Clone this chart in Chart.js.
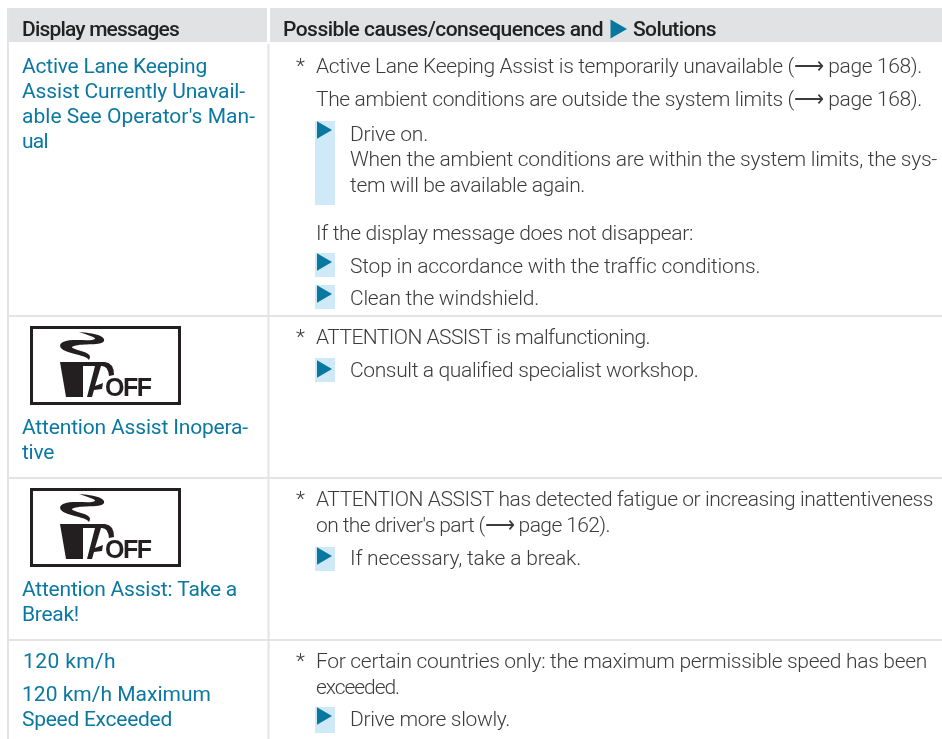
<!DOCTYPE html>
<html>
<head>
<meta charset="utf-8">
<title>Display messages</title>
<script src="https://cdn.jsdelivr.net/npm/chart.js@4/dist/chart.umd.min.js"></script>
<style>
    html, body { margin: 0; padding: 0; background: #fff; overflow: hidden; }
    canvas { display: block; }
</style>
</head>
<body>
<canvas id="messagesChart" width="942" height="739"></canvas>
<script>
// Text lines: [x, baseline y, text, right edge]
const headerLines = [
    [22, 36, 'Display messages', 179],
    [283, 36, 'Possible causes/consequences and', 603],
    [633, 36, 'Solutions', 716]
];
const messageLines = [
    [22, 73, 'Active Lane Keeping', 207],
    [22, 98, 'Assist Currently Unavail-', 245],
    [22, 123, "able See Operator's Man-", 255],
    [22, 148, 'ual', 48],
    [22, 434, 'Attention Assist Inopera-', 248],
    [22, 459, 'tive', 54],
    [22, 596, 'Attention Assist: Take a', 237],
    [22, 621, 'Break!', 79],
    [23, 668, '120 km/h', 116],
    [22, 701, '120 km/h Maximum', 211],
    [22, 726, 'Speed Exceeded', 172]
];
const detailLines = [
    [316, 73, 'Active Lane Keeping Assist is temporarily unavailable (⟶ page 168).', 922],
    [316, 106, 'The ambient conditions are outside the system limits (⟶ page 168).', 922],
    [350, 141, 'Drive on.', 428],
    [350, 166, 'When the ambient conditions are within the system limits, the sys-', 937],
    [350, 192, 'tem will be available again.', 585],
    [316, 240, 'If the display message does not disappear:', 693],
    [350, 273, 'Stop in accordance with the traffic conditions.', 759],
    [350, 305, 'Clean the windshield.', 539],
    [316, 344, 'ATTENTION ASSIST is malfunctioning.', 650],
    [350, 377, 'Consult a qualified specialist workshop.', 698],
    [316, 506, 'ATTENTION ASSIST has detected fatigue or increasing inattentiveness', 933],
    [316, 532, "on the driver's part (⟶ page 162).", 610],
    [350, 565, 'If necessary, take a break.', 581],
    [316, 668, 'For certain countries only: the maximum permissible speed has been', 927],
    [316, 694, 'exceeded.', 399],
    [350, 726, 'Drive more slowly.', 510]
];
const asteriskRows = [[296, 73], [296, 344], [296, 506], [296, 668]];

// Lines of the table: [x1, y1, x2, y2]
const headerBands = [[9, 25, 267, 25], [270, 25, 942, 25]];
const ruleLines = [
    [8, 8, 8, 739], [268.5, 44, 268.5, 739],
    [8, 316, 942, 316], [8, 478, 942, 478], [8, 640, 942, 640]
];
const solutionBands = [
    [325, 121, 325, 205], [325, 253, 325, 277], [325, 285, 325, 309],
    [325, 358, 325, 382], [325, 547, 325, 571], [325, 707, 325, 733]
];
const solutionArrows = [
    { x: 322, y: 130 }, { x: 322, y: 262 }, { x: 322, y: 294 },
    { x: 322, y: 369 }, { x: 322, y: 556 }, { x: 322, y: 716 }
];
const headerArrow = [{ x: 616, y: 29 }];

// Icon boxes (left, top) and the cup, drawn in the box's own units
const iconBoxes = [[30, 326], [30, 488]];
const iconWidth = 151;
const iconHeight = 79;
const cupBody = [[30, 36], [53, 36], [53, 71], [36, 71]];
const cupHandle = 'M53 36 L75 36 Q84 37 84 49 L79 50 Q78 40 72 40 L71 40 L65 60 L73 57 L72 63 L64 64 L62 71 L57 71 L65 40 L53 40 Z';
const cupSteam = 'M49 6 C64 7 76 10 74 15 C72 20 53 17 44 20 C39 21 44 23 51 25 C58 27 62 29 59 34 C57 30 47 29 38 26 C31 24 27 19 33 16 C42 12 61 16 65 13 C66 11 57 9 49 6 Z';

const colors = {
    band: '#e1e2e4',
    rule: '#e3e4e6',
    light: '#d0e9f8',
    arrow: '#08789f',
    head: '#222222',
    blue: '#0b78a2',
    text: '#3c3c3c',
    icon: '#231f20'
};

function lineDataset(seg, color, width) {
    return {
        type: 'scatter',
        showLine: true,
        data: [{ x: seg[0], y: seg[1] }, { x: seg[2], y: seg[3] }],
        borderColor: color,
        borderWidth: width,
        pointRadius: 0
    };
}

function arrowDataset(points, size) {
    return {
        type: 'scatter',
        data: points,
        pointStyle: 'triangle',
        pointRotation: 90,
        pointRadius: size,
        pointBorderWidth: 0,
        pointBackgroundColor: colors.arrow,
        pointBorderColor: colors.arrow
    };
}

// Texto ajustado al ancho que tiene en la referencia
function fitText(ctx, chart, line) {
    const x = chart.scales.x.getPixelForValue(line[0]);
    const y = chart.scales.y.getPixelForValue(line[1]);
    ctx.letterSpacing = '0px';
    const extra = (line[3] - line[0] - ctx.measureText(line[2]).width) / line[2].length;
    ctx.letterSpacing = extra.toFixed(3) + 'px';
    ctx.fillText(line[2], x, y);
    ctx.letterSpacing = '0px';
}

const tablePlugin = {
    id: 'tableText',
    afterDatasetsDraw(chart) {
        const ctx = chart.ctx;
        ctx.save();
        ctx.textBaseline = 'alphabetic';
        ctx.textAlign = 'left';

        ctx.font = '500 21px Roboto, "DejaVu Sans"';
        ctx.fillStyle = colors.head;
        headerLines.forEach(l => fitText(ctx, chart, l));

        ctx.font = '400 21px Roboto, "DejaVu Sans"';
        ctx.fillStyle = colors.blue;
        messageLines.forEach(l => fitText(ctx, chart, l));

        ctx.font = '300 21px Roboto, "DejaVu Sans"';
        ctx.fillStyle = colors.text;
        detailLines.forEach(l => fitText(ctx, chart, l));
        asteriskRows.forEach(a => ctx.fillText('*', a[0], a[1]));

        iconBoxes.forEach(b => {
            ctx.save();
            ctx.translate(chart.scales.x.getPixelForValue(b[0]), chart.scales.y.getPixelForValue(b[1]));
            ctx.strokeStyle = colors.icon;
            ctx.lineWidth = 3;
            ctx.strokeRect(1.5, 1.5, iconWidth - 3, iconHeight - 3);
            ctx.fillStyle = colors.icon;
            ctx.beginPath();
            cupBody.forEach((p, i) => i ? ctx.lineTo(p[0], p[1]) : ctx.moveTo(p[0], p[1]));
            ctx.closePath();
            ctx.fill();
            ctx.fill(new Path2D(cupHandle));
            ctx.fill(new Path2D(cupSteam));
            ctx.font = 'bold 25px "Liberation Sans"';
            ctx.letterSpacing = '-1.5px';
            ctx.fillText('OFF', 75, 70);
            ctx.letterSpacing = '0px';
            ctx.restore();
        });
        ctx.restore();
    }
};

document.addEventListener('DOMContentLoaded', function() {
    const ctx = document.getElementById('messagesChart').getContext('2d');
    new Chart(ctx, {
        data: {
            // El primer dataset se dibuja encima de los demás
            datasets: [
                arrowDataset(solutionArrows, 10),
                arrowDataset(headerArrow, 11),
                ...solutionBands.map(s => lineDataset(s, colors.light, 20)),
                ...ruleLines.map(s => lineDataset(s, colors.rule, 2)),
                ...headerBands.map(s => lineDataset(s, colors.band, 34))
            ]
        },
        options: {
            responsive: false,
            animation: false,
            layout: { padding: 0, autoPadding: false },
            events: [],
            plugins: {
                legend: { display: false },
                tooltip: { enabled: false }
            },
            scales: {
                x: { type: 'linear', display: false, min: 0, max: 942 },
                y: { type: 'linear', display: false, min: 0, max: 739, reverse: true }
            }
        },
        plugins: [tablePlugin]
    });
});
</script>
</body>
</html>
